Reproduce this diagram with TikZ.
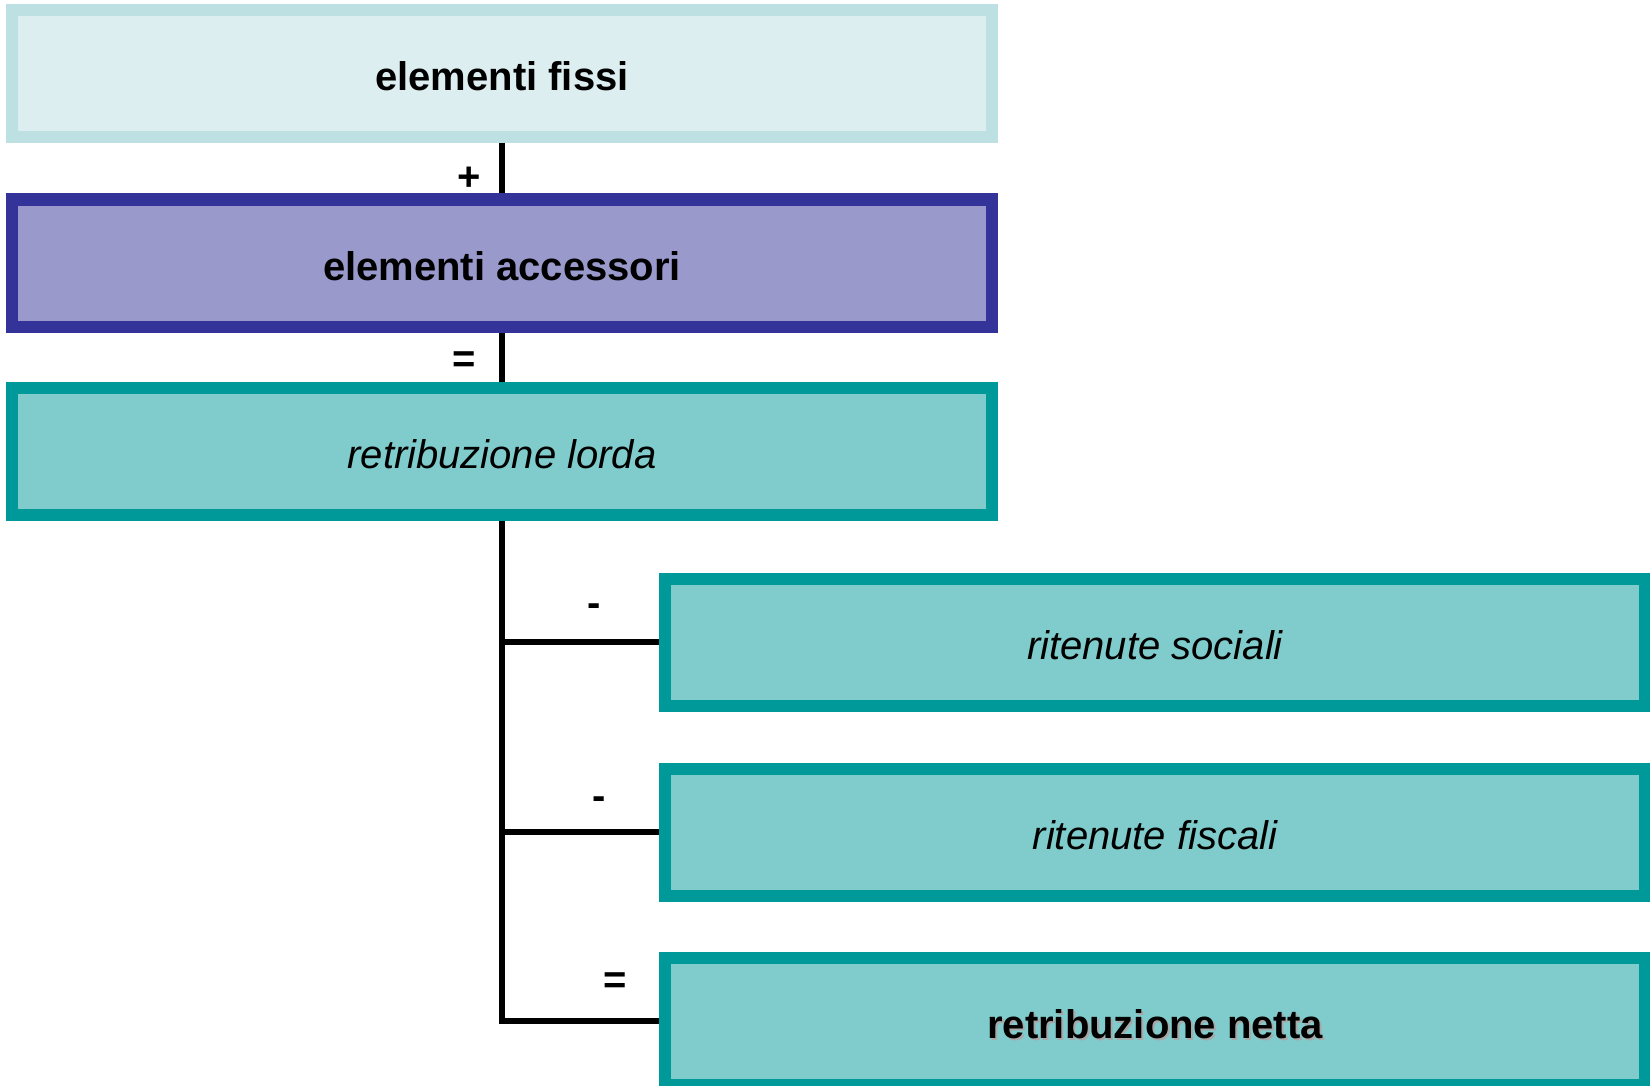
\documentclass[tikz,border=0pt]{standalone}
\usepackage{fontspec}
\setmainfont{Liberation Sans}
\definecolor{fixfill}{HTML}{DDEEF0}
\definecolor{fixline}{HTML}{BDE0E3}
\definecolor{accfill}{HTML}{9999CC}
\definecolor{accline}{HTML}{333399}
\definecolor{tealfill}{HTML}{80CCCC}
\definecolor{tealline}{HTML}{009999}
\definecolor{shadowgray}{HTML}{A8A8A8}
\tikzset{
  boxbase/.style={rectangle, line width=6pt, minimum width=490pt, minimum height=63.5pt,
    inner sep=0pt, text height=17.2pt, text depth=0pt,
    font=\fontsize{20pt}{24pt}\selectfont, text=black},
  fixbox/.style={boxbase, draw=fixline, fill=fixfill},
  accbox/.style={boxbase, draw=accline, fill=accfill},
  tealbox/.style={boxbase, draw=tealline, fill=tealfill},
  conn/.style={draw=black, line width=3pt},
  oplabel/.style={inner sep=0pt, font=\fontsize{20pt}{24pt}\selectfont\bfseries}
}
\begin{document}
\begin{tikzpicture}[x=0.5pt,y=-0.5pt]
\useasboundingbox (0,0) rectangle (1650,1086);
\clip (0,0) rectangle (1650,1086);
\node[fixbox] (b1) at (502,73.5) {\bfseries elementi fissi};
\node[accbox] (b2) at (502,263) {\bfseries elementi accessori};
\node[tealbox] (b3) at (502,451.5) {\itshape retribuzione lorda};
\node[tealbox] (b4) at (1155,642) {\itshape ritenute sociali};
\node[tealbox] (b5) at (1155,832) {\itshape ritenute fiscali};
\node[tealbox] (b6) at (1155,1021) {\bfseries\rlap{\hspace{1pt}\raisebox{-1pt}[0pt][0pt]{\color{shadowgray}retribuzione netta}}retribuzione netta};
\draw[conn] (b1) -- (b2);
\draw[conn] (b2) -- (b3);
\draw[conn] (b3.south) |- (b6.west);
\draw[conn] (b4.west) -- (b4.west -| b3.south);
\draw[conn] (b5.west) -- (b5.west -| b3.south);
\node[oplabel] (l1) at (469,179) {+};
\node[oplabel] (l2) at (464,362) {=};
\node[oplabel] (l3) at (594.5,610) {-};
\node[oplabel] (l4) at (599,803) {-};
\node[oplabel] (l5) at (615,983) {=};
\end{tikzpicture}
\end{document}
